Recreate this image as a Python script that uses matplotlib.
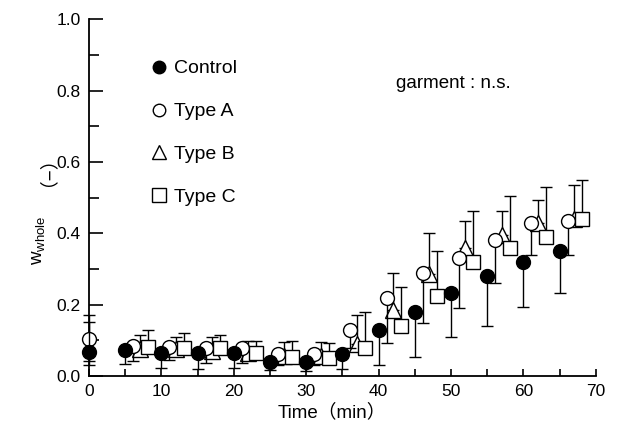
import matplotlib.pyplot as plt
import numpy as np
from matplotlib.ticker import MultipleLocator

plt.rcParams['font.family'] = ['Liberation Sans', 'Noto Sans CJK JP', 'DejaVu Sans']
plt.rcParams['mathtext.fontset'] = 'custom'
plt.rcParams['mathtext.rm'] = 'Liberation Sans'

# time points (min)
times = np.array([0, 5, 10, 15, 20, 25, 30, 35, 40, 45, 50, 55, 60, 65])

# w_whole means, lower / upper SD
control = [0.068, 0.072, 0.064, 0.064, 0.064, 0.040, 0.040, 0.062, 0.129, 0.180, 0.232, 0.280, 0.320, 0.350]
control_lo = [0.037, 0.037, 0.042, 0.044, 0.042, 0.023, 0.025, 0.042, 0.098, 0.127, 0.123, 0.140, 0.127, 0.118]
control_hi = [0.084, 0, 0, 0, 0, 0, 0, 0, 0, 0, 0, 0, 0, 0]

type_a = [0.103, 0.085, 0.082, 0.078, 0.078, 0.062, 0.062, 0.128, 0.220, 0.290, 0.330, 0.380, 0.430, 0.435]
type_a_lo = [0.060, 0.042, 0.038, 0.042, 0.042, 0.030, 0.030, 0.050, 0.128, 0.140, 0.140, 0.120, 0.090, 0.095]
type_a_hi = [0.068, 0, 0, 0, 0, 0, 0, 0, 0, 0, 0, 0, 0, 0]

type_b = [np.nan, 0.075, 0.075, 0.070, 0.065, 0.055, 0.055, 0.090, 0.185, 0.285, 0.360, 0.395, 0.430, 0.440]
type_b_hi = [0, 0.040, 0.035, 0.040, 0.033, 0.040, 0.040, 0.080, 0.104, 0.115, 0.074, 0.068, 0.063, 0.095]

type_c = [np.nan, 0.082, 0.078, 0.078, 0.064, 0.054, 0.051, 0.080, 0.140, 0.224, 0.320, 0.360, 0.390, 0.440]
type_c_hi = [0, 0.047, 0.042, 0.037, 0.034, 0.045, 0.042, 0.100, 0.110, 0.126, 0.142, 0.144, 0.140, 0.110]

fig = plt.figure(figsize=(6.18, 4.25), dpi=100)
ax = fig.add_axes([0.144, 0.115, 0.820, 0.840])

series = [
    # label, y, lower, upper, marker, face, size, x shift, zorder
    ("Type B", type_b, np.zeros(len(times)), type_b_hi, "^", "white", 11.5, 2.0, 3),
    ("Type A", type_a, type_a_lo, type_a_hi, "o", "white", 10, 1.1, 4),
    ("Type C", type_c, np.zeros(len(times)), type_c_hi, "s", "white", 10.5, 3.1, 5),
    ("Control", control, control_lo, control_hi, "o", "black", 10, 0.0, 6),
]

handles = {}
for label, y, lo, hi, marker, face, size, shift, z in series:
    x = times + shift * (times > 0)
    eb = ax.errorbar(x, y, yerr=[lo, hi], fmt=marker, ms=size, mfc=face, mec="black",
                     mew=1.0, ecolor="black", elinewidth=1.0, capsize=4, capthick=1.0,
                     zorder=z, clip_on=False, label=label)
    for art in eb.lines[1] + eb.lines[2]:
        art.set_clip_on(False)
    handles[label] = eb.lines[0]

order = ["Control", "Type A", "Type B", "Type C"]
ax.legend([handles[k] for k in order], order, loc="upper left",
          bbox_to_anchor=(0.08, 0.935), frameon=False, fontsize=14,
          handletextpad=0.2, labelspacing=1.3, handlelength=1.2, markerscale=0.9)

ax.text(0.605, 0.82, "garment : n.s.", transform=ax.transAxes, fontsize=13.5,
        ha="left", va="center")

ax.set_xlim(0, 70)
ax.set_ylim(0, 1.0)
ax.spines["top"].set_visible(False)
ax.spines["right"].set_visible(False)
ax.spines["left"].set_linewidth(1.3)
ax.spines["bottom"].set_linewidth(1.3)

ax.xaxis.set_major_locator(MultipleLocator(10))
ax.xaxis.set_minor_locator(MultipleLocator(5))
ax.yaxis.set_major_locator(MultipleLocator(0.2))
ax.yaxis.set_minor_locator(MultipleLocator(0.1))
ax.yaxis.set_major_formatter(lambda v, p: f"{v:.1f}")
ax.tick_params(axis="both", which="both", direction="in", labelsize=12.5, width=1.2, pad=6)
ax.tick_params(axis="y", which="major", length=10)
ax.tick_params(axis="y", which="minor", length=7)
ax.tick_params(axis="x", which="both", length=5)

ax.set_xlabel("Time（min）", fontsize=13.5)
ax.xaxis.set_label_coords(0.48, -0.075)

# y label: subscripted symbol plus full-width unit brackets
ax.text(-0.10, 0.38, r"$\mathregular{w_{whole}}$", transform=ax.transAxes,
        rotation=90, fontsize=13.5, ha="center", va="center")
ax.text(-0.10, 0.60, "（−）", transform=ax.transAxes, rotation=90,
        fontsize=13.5, ha="center", va="center")

fig.savefig("out.png", dpi=100)
